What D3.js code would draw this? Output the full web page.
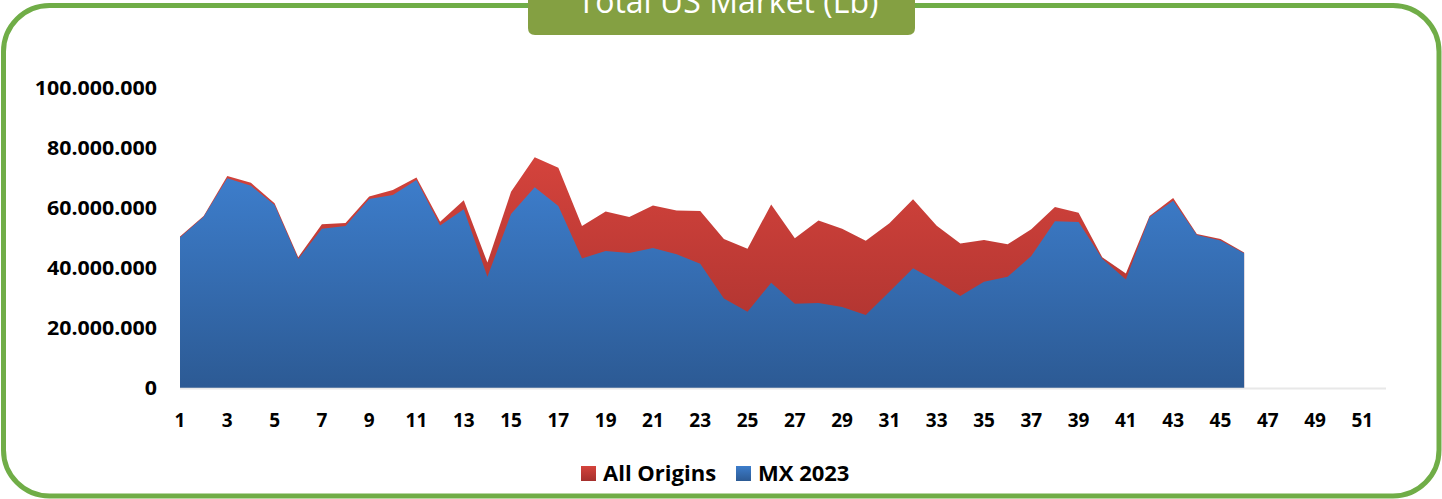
<!DOCTYPE html>
<html>
<meta charset="utf-8">
<style>
body { margin: 0; background: #fff; }
svg { display: block; }
.lbl { font-family: 'Open Sans', sans-serif; font-weight: 700; fill: #000; }
</style>
<body>
<svg width="1442" height="499"></svg>
<script src="https://cdn.jsdelivr.net/npm/d3@7/dist/d3.min.js"></script>
<script>

// weeks 1..52 on the axis, data only up to week 46
var weeks = d3.range(1, 53);
var allOrigins = [50500000, 57300000, 70700000, 68400000, 61600000, 43600000, 54600000, 55000000, 63800000, 66000000,
                  70200000, 55400000, 62600000, 41800000, 65400000, 76900000, 73400000, 54000000, 58800000, 57000000,
                  60800000, 59200000, 59000000, 49700000, 46400000, 61200000, 49900000, 55800000, 53100000, 49100000,
                  54900000, 62900000, 54100000, 48200000, 49300000, 47900000, 52900000, 60300000, 58400000, 43600000,
                  38200000, 57300000, 63300000, 51300000, 49700000, 45200000];
var mx2023 = [50200000, 57100000, 69900000, 67400000, 61000000, 43000000, 53100000, 54000000, 63000000, 64300000,
              69300000, 54200000, 59600000, 37100000, 58000000, 66900000, 60700000, 43200000, 45700000, 45000000,
              46700000, 44600000, 41400000, 29800000, 25400000, 35100000, 28100000, 28300000, 27000000, 24300000,
              32100000, 39900000, 35600000, 30700000, 35400000, 37100000, 44000000, 55600000, 55300000, 43100000,
              36200000, 56900000, 62400000, 51000000, 49200000, 44900000];
var yTicks = [0, 20000000, 40000000, 60000000, 80000000, 100000000];
var seriesNames = ["All Origins", "MX 2023"];
var title = "Total US Market (Lb)";

var svg = d3.select("svg");

var x = d3.scalePoint().domain(weeks).range([180, 1386]),
    y = d3.scaleLinear().domain([0, 100000000]).range([388, 88]);

var fmt = d3.formatLocale({decimal: ",", thousands: ".", grouping: [3], currency: ["", ""]}).format(",.0f");

var defs = svg.append("defs");
function grad(id, top, bottom) {
    var g = defs.append("linearGradient").attr("id", id)
        .attr("x1", 0).attr("y1", 0).attr("x2", 0).attr("y2", 1);
    g.append("stop").attr("offset", "0%").attr("stop-color", top);
    g.append("stop").attr("offset", "100%").attr("stop-color", bottom);
}
grad("gRed", "#d4433c", "#a5302d");
grad("gBlue", "#3d7dcb", "#2c5a94");

// frame
svg.append("rect")
    .attr("x", 3.5).attr("y", 5.5)
    .attr("width", 1435.5).attr("height", 490.5)
    .attr("rx", 46)
    .attr("fill", "#fff")
    .attr("stroke", "#70ad47")
    .attr("stroke-width", 5);

// title tab (its top runs off the page, as in the original)
svg.append("path")
    .attr("d", "M528,-10 L915,-10 L915,28 Q915,35 908,35 L535,35 Q528,35 528,28 Z")
    .attr("fill", "#84a042");
svg.append("text")
    .attr("x", 728).attr("y", 13)
    .attr("text-anchor", "middle")
    .style("font-family", "'Open Sans', sans-serif")
    .style("font-size", "32px")
    .attr("fill", "#fff")
    .text(title);

var area = d3.area()
    .x(function(d, i) { return x(weeks[i]); })
    .y0(y(0))
    .y1(function(d) { return y(d); });

svg.append("path").datum(allOrigins).attr("fill", "url(#gRed)").attr("d", area);
svg.append("path").datum(mx2023).attr("fill", "url(#gBlue)").attr("d", area);

// category axis line
svg.append("line")
    .attr("x1", x(1)).attr("x2", x(52))
    .attr("y1", y(0) + 0.5).attr("y2", y(0) + 0.5)
    .attr("stroke", "#d9d9d9").attr("stroke-opacity", 0.6)
    .attr("stroke-width", 2);

// y labels, a bit stretched sideways like the source
svg.selectAll(".ylab").data(yTicks).enter().append("text")
    .attr("class", "lbl ylab")
    .attr("transform", function(d) { return "translate(157," + y(d) + ") scale(1.07,1)"; })
    .attr("dy", "0.36em")
    .attr("text-anchor", "end")
    .style("font-size", "20px")
    .text(function(d) { return fmt(d); });

// x labels, every second week
svg.selectAll(".xlab").data(weeks.filter(function(d) { return d % 2 == 1; })).enter().append("text")
    .attr("class", "lbl xlab")
    .attr("x", function(d) { return x(d); }).attr("y", 427)
    .attr("text-anchor", "middle")
    .style("font-size", "19px")
    .text(function(d) { return d; });

// legend
var legendX = [581, 736], legendFill = ["url(#gRed)", "url(#gBlue)"];
seriesNames.forEach(function(name, i) {
    svg.append("rect")
        .attr("x", legendX[i]).attr("y", 466)
        .attr("width", 15).attr("height", 15)
        .attr("fill", legendFill[i]);
    svg.append("text")
        .attr("class", "lbl")
        .attr("x", legendX[i] + 22).attr("y", 481)
        .style("font-size", "22px")
        .text(name);
});

</script>
</body>
</html>
